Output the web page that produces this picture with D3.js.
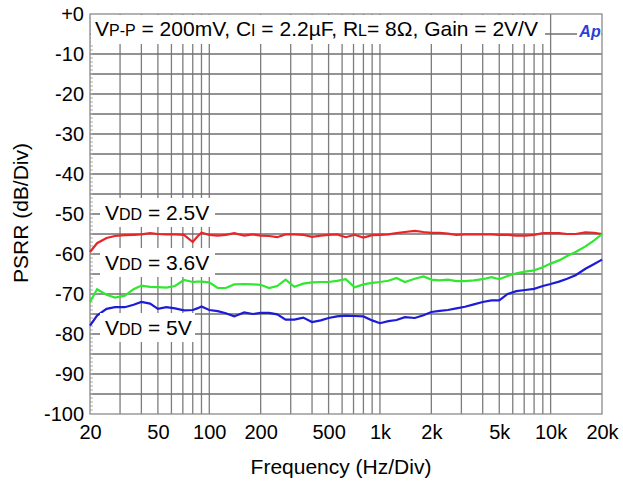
<!DOCTYPE html>
<html>
<head>
<meta charset="utf-8">
<script src="https://cdn.jsdelivr.net/npm/d3@7"></script>
<style>
  body { margin: 0; background: #fff; }
  text { font-family: "Liberation Sans", Arial, sans-serif; }
</style>
</head>
<body>
<svg id="chart" width="623" height="489"></svg>
<script>
// sweep frequencies (Hz), shared by all three curves
var freqs = [20, 22, 25, 28, 32, 36, 40, 45, 50, 56, 63, 71, 80, 85, 90, 100,
  112, 125, 140, 160, 180, 200, 224, 250, 280, 315, 355, 400, 450, 500, 560,
  630, 710, 800, 900, 1000, 1120, 1250, 1400, 1600, 1800, 2000, 2240, 2500,
  2800, 3150, 3550, 4000, 4500, 5000, 5600, 6300, 7100, 8000, 9000, 10000,
  11200, 12500, 14000, 16000, 18000, 20000];

// PSRR in dB
var psrr25 = [-59.5, -57.3, -56.0, -55.5, -55.3, -55.2, -55.1, -54.8, -55.0, -55.1,
  -55.1, -55.2, -57.0, -55.7, -54.7, -55.2, -55.4, -55.2, -54.8, -55.4, -55.1,
  -55.4, -55.5, -55.8, -55.1, -55.1, -55.2, -55.7, -55.4, -55.2, -55.1, -55.8,
  -55.2, -55.9, -55.3, -55.2, -55.1, -54.8, -54.5, -54.2, -54.5, -54.7, -54.7,
  -54.9, -55.2, -55.1, -55.1, -55.1, -55.1, -55.2, -55.2, -55.4, -55.4, -55.2,
  -54.8, -54.8, -54.8, -55.0, -55.0, -54.6, -54.7, -55.0];
var psrr36 = [-72.0, -68.8, -70.2, -70.9, -70.4, -68.8, -67.9, -68.2, -68.3, -68.4,
  -68.0, -66.5, -67.0, -66.9, -66.9, -67.1, -68.5, -68.5, -67.6, -67.5, -67.6,
  -67.7, -68.5, -68.0, -66.4, -68.2, -67.4, -67.1, -67.0, -67.0, -66.7, -66.3,
  -68.3, -67.6, -67.2, -67.0, -66.7, -66.0, -67.0, -66.2, -65.6, -66.4, -66.6,
  -66.4, -66.8, -66.8, -66.6, -66.3, -65.8, -66.3, -65.5, -64.8, -64.4, -64.1,
  -63.3, -62.4, -61.6, -60.5, -59.5, -58.1, -56.6, -55.0];
var psrr50 = [-77.9, -75.4, -73.7, -73.3, -73.3, -72.7, -72.0, -72.4, -73.7, -73.3,
  -73.6, -74.1, -74.0, -73.6, -73.1, -74.0, -74.3, -74.8, -75.6, -74.6, -75.0,
  -74.7, -74.7, -75.1, -76.4, -76.4, -75.9, -77.0, -76.6, -76.0, -75.6, -75.4,
  -75.5, -75.6, -76.6, -77.3, -76.8, -76.5, -75.8, -76.0, -75.3, -74.5, -74.2,
  -74.0, -73.6, -73.2, -72.6, -72.0, -71.6, -71.6, -70.0, -69.3, -69.0, -68.7,
  -68.0, -67.5, -66.9, -66.2, -65.3, -63.7, -62.5, -61.4];

var xTicks = [20, 50, 100, 200, 500, 1000, 2000, 5000, 10000, 20000];
var xTickLabels = ["20", "50", "100", "200", "500", "1k", "2k", "5k", "10k", "20k"];
var yTicks = [0, -10, -20, -30, -40, -50, -60, -70, -80, -90, -100];
var yTickLabels = ["+0", "-10", "-20", "-30", "-40", "-50", "-60", "-70", "-80", "-90", "-100"];

var svg = d3.select("#chart");
var x = d3.scaleLog().domain([20, 20000]).range([90, 602]);
var y = d3.scaleLinear().domain([-100, 0]).range([414, 14]);

// grid lines
var vGrid = [];
[10, 100, 1000, 10000].forEach(function(dec) {
  for (var k = 1; k <= 9; k++) {
    var f = dec * k;
    if (f > 20 && f < 20000) vGrid.push(f);
  }
});
var hGrid = d3.range(-95, 0, 5);

var g = svg.append("g");
g.selectAll(".vg").data(vGrid).enter().append("line")
  .attr("x1", d => x(d)).attr("x2", d => x(d))
  .attr("y1", y(0)).attr("y2", y(-100))
  .style("stroke", "#7d7d7d").style("stroke-width", 1.3);
g.selectAll(".hg").data(hGrid).enter().append("line")
  .attr("x1", x(20)).attr("x2", x(20000))
  .attr("y1", d => y(d)).attr("y2", d => y(d))
  .style("stroke", "#6f6f6f").style("stroke-width", 1.4);

// small minor ticks along the left edge
g.selectAll(".mt").data(d3.range(-99, 0, 1)).enter().append("line")
  .attr("x1", x(20)).attr("x2", x(20) + 3)
  .attr("y1", d => y(d)).attr("y2", d => y(d))
  .style("stroke", "#aaa").style("stroke-width", 1);

g.append("rect")
  .attr("x", x(20)).attr("y", y(0))
  .attr("width", x(20000) - x(20)).attr("height", y(-100) - y(0))
  .style("fill", "none").style("stroke", "#8a8a8a").style("stroke-width", 1.3);

// curves
var line = d3.line()
  .x((d, i) => x(freqs[i]))
  .y(d => y(d));
[[psrr25, "#e8262a"], [psrr36, "#2fe82f"], [psrr50, "#1c1cd8"]].forEach(function(s) {
  g.append("path").datum(s[0])
    .attr("d", line)
    .style("fill", "none").style("stroke", s[1]).style("stroke-width", 2.2);
});

// title box
g.append("rect").attr("x", 91).attr("y", 15).attr("width", 454).attr("height", 29)
  .style("fill", "#fff");
var t = g.append("text").attr("x", 95).attr("y", 36).style("font-size", "21px");
t.append("tspan").text("V");
t.append("tspan").style("font-size", "16px").text("P-P");
t.append("tspan").text(" = 200mV, C");
t.append("tspan").style("font-size", "16px").text("I");
t.append("tspan").text(" = 2.2\u00b5F, R");
t.append("tspan").style("font-size", "16px").text("L");
t.append("tspan").text("= 8\u03a9, Gain = 2V/V");

// Ap logo
g.append("rect").attr("x", 577).attr("y", 15).attr("width", 24).attr("height", 24)
  .style("fill", "#fff");
g.append("text").attr("x", 590).attr("y", 37).attr("text-anchor", "middle")
  .style("font-size", "16px").style("font-weight", "bold").style("font-style", "italic")
  .style("fill", "#2a3fd6").text("Ap");

// curve labels
var labels = [
  {txt: " = 2.5V", y: 220, w: 115},
  {txt: " = 3.6V", y: 270, w: 115},
  {txt: " = 5V", y: 335, w: 95}
];
labels.forEach(function(l) {
  g.append("rect").attr("x", 100).attr("y", l.y - 22).attr("width", l.w).attr("height", 29)
    .style("fill", "#fff");
  var lt = g.append("text").attr("x", 105).attr("y", l.y).style("font-size", "21px");
  lt.append("tspan").text("V");
  lt.append("tspan").style("font-size", "16px").text("DD");
  lt.append("tspan").text(l.txt);
});

// axes
var xAxis = d3.axisBottom(x).tickValues(xTicks)
  .tickFormat((d, i) => xTickLabels[i]).tickSize(0).tickPadding(0);
var xa = svg.append("g").attr("transform", "translate(0,425)").call(xAxis);
xa.select(".domain").remove();
xa.selectAll("text").style("font-size", "20px").style("fill", "#000")
  .style("font-family", "Liberation Sans, Arial, sans-serif");

var yAxis = d3.axisLeft(y).tickValues(yTicks)
  .tickFormat((d, i) => yTickLabels[i]).tickSize(0).tickPadding(0);
var ya = svg.append("g").attr("transform", "translate(84,0)").call(yAxis);
ya.select(".domain").remove();
ya.selectAll("text").style("font-size", "20px").style("fill", "#000")
  .style("font-family", "Liberation Sans, Arial, sans-serif");

svg.append("text").attr("x", 341).attr("y", 474).attr("text-anchor", "middle")
  .style("font-size", "21px").text("Frequency (Hz/Div)");
svg.append("text").attr("transform", "translate(28,213) rotate(-90)")
  .attr("text-anchor", "middle").style("font-size", "21px").text("PSRR (dB/Div)");
</script>
</body>
</html>
